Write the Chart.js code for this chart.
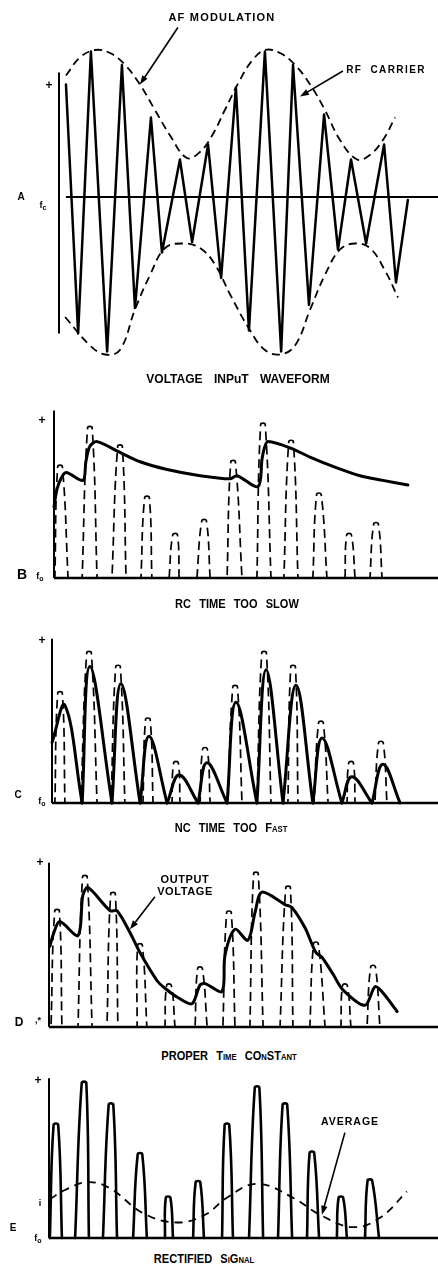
<!DOCTYPE html>
<html><head><meta charset="utf-8">
<script src="https://cdn.jsdelivr.net/npm/chart.js@4/dist/chart.umd.min.js"></script>
<style>
html,body{margin:0;padding:0;background:#fff;}
#page{position:relative;width:438px;height:1273px;overflow:hidden;background:#fff;}
canvas{position:absolute;left:0;}
.lbl{position:absolute;transform:translate(-50%,-50%);font-family:"Liberation Sans",Arial,sans-serif;font-weight:bold;color:#000;white-space:nowrap;line-height:1;}
.cap{font-size:13px;word-spacing:6px;transform:translate(-50%,-50%) scaleX(0.85);}
.sc{font-variant:small-caps;}
</style></head><body><div id="page">
<canvas id="cA"></canvas><canvas id="cB"></canvas><canvas id="cC"></canvas><canvas id="cD"></canvas><canvas id="cE"></canvas>

<div class="lbl" style="left:222px;top:17px;font-size:11px;letter-spacing:1.2px;">AF MODULATION</div>
<div class="lbl" style="left:386px;top:70px;font-size:10px;letter-spacing:1.4px;word-spacing:4px;">RF CARRIER</div>
<div class="lbl" style="left:49px;top:85px;font-size:12px;">+</div>
<div class="lbl" style="left:21px;top:197px;font-size:10px;">A</div>
<div class="lbl" style="left:43px;top:206px;font-size:9px;">f<sub style="font-size:7px">c</sub></div>
<div class="lbl" style="left:238px;top:379px;font-size:12px;word-spacing:8px;">VOLTAGE INPuT WAVEFORM</div>

<div class="lbl" style="left:42px;top:420px;font-size:12px;">+</div>
<div class="lbl" style="left:22px;top:574px;font-size:14px;">B</div>
<div class="lbl" style="left:40px;top:577px;font-size:9px;">f<sub style="font-size:7px">o</sub></div>
<div class="lbl cap" style="left:237px;top:603px;">RC TIME TOO SLOW</div>

<div class="lbl" style="left:42px;top:640px;font-size:12px;">+</div>
<div class="lbl" style="left:18px;top:795px;font-size:10px;">C</div>
<div class="lbl" style="left:42px;top:802px;font-size:9px;">f<sub style="font-size:7px">o</sub></div>
<div class="lbl cap sc" style="left:231px;top:827px;">NC TIME TOO Fast</div>

<div class="lbl" style="left:40px;top:862px;font-size:12px;">+</div>
<div class="lbl" style="left:185px;top:885px;font-size:11px;line-height:12px;letter-spacing:0.6px;text-align:center;">OUTPUT<br>VOLTAGE</div>
<div class="lbl" style="left:19px;top:1022px;font-size:12px;">D</div>
<div class="lbl" style="left:38px;top:1020px;font-size:9px;">,*</div>
<div class="lbl cap sc" style="left:229px;top:1055px;">PROPER Time COnSTant</div>

<div class="lbl" style="left:38px;top:1080px;font-size:12px;">+</div>
<div class="lbl" style="left:350px;top:1121px;font-size:10.5px;letter-spacing:1px;">AVERAGE</div>
<div class="lbl" style="left:40px;top:1203px;font-size:9px;">i</div>
<div class="lbl" style="left:13px;top:1228px;font-size:10px;">E</div>
<div class="lbl" style="left:38px;top:1239px;font-size:9px;">f<sub style="font-size:7px">o</sub></div>
<div class="lbl cap sc" style="left:204px;top:1258px;">RECTIFIED SiGnal</div>
</div>
<script>
// ===== DATA (time in carrier cycles, voltage relative to peak) =====
// Panel A: modulated RF carrier
const carrierT = [0.24,0.66,1.10,1.66,2.17,2.62,3.17,3.55,4.17,4.59,5.14,5.59,6.10,6.55,7.10,7.66,8.07,8.62,9.14,9.62,10.07,10.59,11.21,11.62,12.03];
const carrierV = [0.75,-0.91,0.97,-1.03,0.88,-0.74,0.53,-0.37,0.25,-0.30,0.35,-0.54,0.73,-0.89,0.97,-1.03,0.88,-0.72,0.55,-0.35,0.25,-0.31,0.35,-0.57,-0.02];
const envUpT = [0.24,0.72,1.24,1.76,2.28,2.79,3.31,3.83,4.41,4.86,5.28,5.72,6.24,6.66,7.10,7.62,8.14,8.66,9.17,9.69,10.28,10.72,11.17,11.59];
const envUpV = [0.81,0.93,0.98,0.96,0.88,0.75,0.58,0.41,0.26,0.30,0.41,0.58,0.78,0.91,0.98,0.96,0.88,0.75,0.58,0.38,0.25,0.28,0.38,0.53];
const envLoT = [0.21,1.07,1.59,2.10,2.62,3.14,3.66,4.28,4.86,5.38,5.90,6.59,7.10,7.62,8.14,8.66,9.17,9.69,10.21,10.72,11.24,11.69];
const envLoV = [-0.80,-0.99,-1.05,-1.02,-0.75,-0.52,-0.34,-0.31,-0.34,-0.45,-0.65,-0.89,-1.02,-1.05,-0.99,-0.75,-0.52,-0.35,-0.31,-0.34,-0.49,-0.67];

// Panel B: RC time too slow
const bPulseStart = [0.03,0.98,2.02,3.03,4.01,4.98,6.03,7.07,8.01,9.02,10.14,11.01];
const bPulsePeakT = [0.21,1.25,2.30,3.24,4.22,5.23,6.24,7.28,8.26,9.23,10.28,11.22];
const bPulsePeakV = [0.72,0.97,0.85,0.52,0.28,0.37,0.75,0.99,0.88,0.54,0.28,0.35];
const bPulseEnd   = [0.49,1.50,2.51,3.41,4.36,5.44,6.55,7.56,8.50,9.51,10.49,11.43];
const bOutT = [0.00,0.10,0.24,0.42,1.01,1.11,1.25,1.50,2.30,3.00,3.94,5.09,6.13,6.38,7.11,7.25,7.35,7.46,8.22,8.92,9.72,10.66,11.46,12.33];
const bOutV = [0.46,0.57,0.64,0.68,0.63,0.75,0.85,0.88,0.81,0.75,0.70,0.66,0.64,0.66,0.59,0.77,0.85,0.88,0.84,0.78,0.72,0.66,0.63,0.60];

// Panel C: RC time too fast
const cPulseStart = [0.10,1.01,2.06,3.17,4.18,5.16,6.13,7.14,8.22,9.13,10.28,11.25];
const cPulsePeakT = [0.28,1.29,2.30,3.34,4.32,5.33,6.38,7.39,8.40,9.37,10.42,11.46];
const cPulsePeakV = [0.71,0.97,0.88,0.54,0.26,0.35,0.75,0.97,0.88,0.52,0.26,0.39];
const cPulseEnd   = [0.45,1.57,2.54,3.52,4.46,5.51,6.62,7.63,8.57,9.62,10.56,11.67];
const cOutStartT = [0.00,1.05,2.09,3.07,4.01,5.09,6.10,7.14,8.05,9.09,10.10,11.15];
const cOutStartV = [0.39,0,0,0,0,0,0,0,0,0,0,0];
const cOutPeakT  = [0.45,1.32,2.40,3.38,4.43,5.40,6.41,7.46,8.50,9.41,10.45,11.53];
const cOutPeakV  = [0.63,0.88,0.77,0.43,0.18,0.26,0.65,0.86,0.76,0.42,0.17,0.25];
const cOutEndT   = [1.05,2.09,3.07,4.01,5.09,6.10,7.14,8.05,9.09,10.10,11.15,12.13];

// Panel D: proper time constant
const dPulseStart = [0.07,1.01,2.02,3.07,4.04,5.09,6.06,7.00,8.05,9.09,10.17,11.08];
const dPulsePeakT = [0.28,1.25,2.23,3.17,4.18,5.26,6.27,7.21,8.33,9.30,10.31,11.29];
const dPulsePeakV = [0.75,0.97,0.86,0.53,0.27,0.38,0.74,0.99,0.90,0.54,0.27,0.39];
const dPulseEnd   = [0.45,1.50,2.40,3.41,4.39,5.51,6.48,7.46,8.50,9.62,10.52,11.53];
const dOutT = [0.03,0.17,0.38,1.01,1.18,1.36,2.13,2.37,2.82,3.17,3.76,4.04,4.49,4.98,5.26,5.44,6.03,6.13,6.48,6.93,7.18,7.42,8.22,8.47,8.92,9.30,9.51,9.90,10.24,11.01,11.36,11.64,12.13];
const dOutV = [0.52,0.61,0.68,0.59,0.85,0.90,0.75,0.75,0.61,0.48,0.30,0.25,0.19,0.15,0.27,0.28,0.23,0.46,0.63,0.56,0.74,0.87,0.79,0.77,0.64,0.48,0.45,0.34,0.24,0.14,0.26,0.22,0.10];

// Panel E: rectified signal and its average
const ePulseStart = [0.03,0.91,1.88,2.93,4.04,5.02,6.03,6.97,7.98,8.99,10.03,11.01];
const ePulsePeakT = [0.24,1.22,2.16,3.17,4.15,5.19,6.20,7.25,8.22,9.16,10.17,11.18];
const ePulsePeakV = [0.73,1.00,0.86,0.54,0.26,0.36,0.73,0.97,0.86,0.55,0.26,0.37];
const ePulseEnd   = [0.45,1.39,2.37,3.41,4.32,5.40,6.41,7.46,8.47,9.41,10.38,11.50];
const eAvgT = [0.03,0.56,1.36,2.13,3.28,4.46,5.44,6.20,7.25,8.50,9.44,10.59,11.53,12.47];
const eAvgV = [0.25,0.31,0.36,0.32,0.16,0.10,0.15,0.26,0.35,0.26,0.15,0.07,0.13,0.30];

// ===== LAYOUT / STYLE =====
const W = 438;
const PULSE_CAP = 0.08;   // half-width of the rounded pulse tops, in cycles
const DASH = [9,5];
const panels = {
  A:{top:0,   h:390, axisX:59, pxX:29,   baseY:197,  pxY:150},
  B:{top:400, h:200, axisX:54, pxX:28.7, baseY:578,  pxY:155},
  C:{top:625, h:195, axisX:52, pxX:28.7, baseY:803,  pxY:155},
  D:{top:850, h:190, axisX:49, pxX:28.7, baseY:1027, pxY:155},
  E:{top:1065,h:185, axisX:49, pxX:28.7, baseY:1238, pxY:155}
};

const pts = (xs, ys) => xs.map((x,i)=>({x, y: ys[i]}));
const solid = (data, w, tension) => ({data, showLine:true, borderColor:'#000', borderWidth:w, tension:tension||0, pointRadius:0, fill:false, clip:false, borderJoinStyle:'round', borderCapStyle:'round'});
const dashed = (data, w, dash, tension, offset) => ({data, showLine:true, borderColor:'#000', borderWidth:w, borderDash:dash, borderDashOffset:offset||0, tension:tension||0, pointRadius:0, fill:false, clip:false, borderCapStyle:'butt'});
const pulseData = (s, p, v, e) => [{x:s,y:0},{x:p-PULSE_CAP,y:v},{x:p+PULSE_CAP,y:v},{x:e,y:0}];
// dashed pulses: phase the dash so the rounded top is drawn as one dash
const dashedPulses = (s, pt, pv, e, p) => pt.map((t,i)=>{
  const L = pv[i]*p.pxY, per = DASH[0]+DASH[1];
  const off = (((1.5 - L) % per) + per) % per;
  return dashed(pulseData(s[i], t, pv[i], e[i]), 1.7, DASH, 0.4, off);
});
const solidPulses = (s, pt, pv, e) => pt.map((t,i)=>solid(pulseData(s[i], t, pv[i], e[i]), 2.6, 0.4));

const decorPlugin = {
  id:'decor',
  afterDatasetsDraw(chart, args, opts){
    const ctx = chart.ctx, xs = chart.scales.x, ys = chart.scales.y;
    const px = v => xs.getPixelForValue(v === 'max' ? xs.max : v);
    const py = v => ys.getPixelForValue(v);
    ctx.save(); ctx.strokeStyle='#000'; ctx.fillStyle='#000'; ctx.setLineDash([]); ctx.lineCap='butt';
    (opts.lines||[]).forEach(l=>{
      ctx.lineWidth=l.w; ctx.beginPath(); ctx.moveTo(px(l.x1),py(l.y1)); ctx.lineTo(px(l.x2),py(l.y2)); ctx.stroke();
    });
    (opts.arrows||[]).forEach(a=>{
      const x1=px(a.x1), y1=py(a.y1), x2=px(a.x2), y2=py(a.y2);
      const an=Math.atan2(y2-y1,x2-x1), c=Math.cos(an), s=Math.sin(an);
      ctx.lineWidth=1.6; ctx.beginPath(); ctx.moveTo(x1,y1); ctx.lineTo(x2-6*c,y2-6*s); ctx.stroke();
      ctx.beginPath(); ctx.moveTo(x2,y2);
      ctx.lineTo(x2-9*c+3.2*s, y2-9*s-3.2*c); ctx.lineTo(x2-9*c-3.2*s, y2-9*s+3.2*c); ctx.closePath(); ctx.fill();
    });
    ctx.restore();
  }
};

function build(id, p, datasets, decor){
  const cv = document.getElementById(id);
  cv.width = W; cv.height = p.h; cv.style.top = p.top+'px';
  return new Chart(cv.getContext('2d'), {
    type:'scatter',
    data:{datasets},
    options:{
      responsive:false, animation:false, events:[],
      layout:{padding:0},
      plugins:{legend:{display:false}, tooltip:{enabled:false}, decor},
      scales:{
        x:{type:'linear', display:false, min:-p.axisX/p.pxX, max:(W-p.axisX)/p.pxX},
        y:{type:'linear', display:false, min:-(p.top+p.h-p.baseY)/p.pxY, max:(p.baseY-p.top)/p.pxY}
      }
    },
    plugins:[decorPlugin]
  });
}

// Panel A
build('cA', panels.A, [
  dashed(pts(envUpT, envUpV), 1.8, [8,5], 0.4),
  dashed(pts(envLoT, envLoV), 1.8, [8,5], 0.4),
  solid(pts(carrierT, carrierV), 2.5, 0)
], {
  lines:[{x1:0,y1:0.83,x2:0,y2:-0.91,w:2},{x1:0.24,y1:0,x2:'max',y2:0,w:2.2}],
  arrows:[{x1:4.10,y1:1.13,x2:2.79,y2:0.75},{x1:9.79,y1:0.84,x2:8.31,y2:0.67}]
});

// Panel B
build('cB', panels.B, [
  ...dashedPulses(bPulseStart, bPulsePeakT, bPulsePeakV, bPulseEnd, panels.B),
  solid(pts(bOutT, bOutV), 3, 0.3)
], { lines:[{x1:0,y1:1.08,x2:0,y2:0,w:2},{x1:0,y1:0,x2:'max',y2:0,w:2.4}] });

// Panel C
build('cC', panels.C, [
  ...dashedPulses(cPulseStart, cPulsePeakT, cPulsePeakV, cPulseEnd, panels.C),
  ...cOutPeakT.map((p,i)=>solid([{x:cOutStartT[i],y:cOutStartV[i]},{x:p,y:cOutPeakV[i]},{x:cOutEndT[i],y:0}],3,0.4))
], { lines:[{x1:0,y1:1.06,x2:0,y2:0,w:2},{x1:0,y1:0,x2:'max',y2:0,w:2.4}] });

// Panel D
build('cD', panels.D, [
  ...dashedPulses(dPulseStart, dPulsePeakT, dPulsePeakV, dPulseEnd, panels.D),
  solid(pts(dOutT, dOutV), 3, 0.3)
], {
  lines:[{x1:0,y1:1.06,x2:0,y2:0,w:2},{x1:0,y1:0,x2:'max',y2:0,w:2.4}],
  arrows:[{x1:3.69,y1:0.84,x2:2.82,y2:0.63}]
});

// Panel E
build('cE', panels.E, [
  ...solidPulses(ePulseStart, ePulsePeakT, ePulsePeakV, ePulseEnd),
  dashed(pts(eAvgT, eAvgV), 1.8, [8,6], 0.4)
], {
  lines:[{x1:0,y1:1.03,x2:0,y2:0,w:2},{x1:0,y1:0,x2:'max',y2:0,w:2.4}],
  arrows:[{x1:10.31,y1:0.68,x2:9.51,y2:0.15}]
});
</script>
</body></html>
